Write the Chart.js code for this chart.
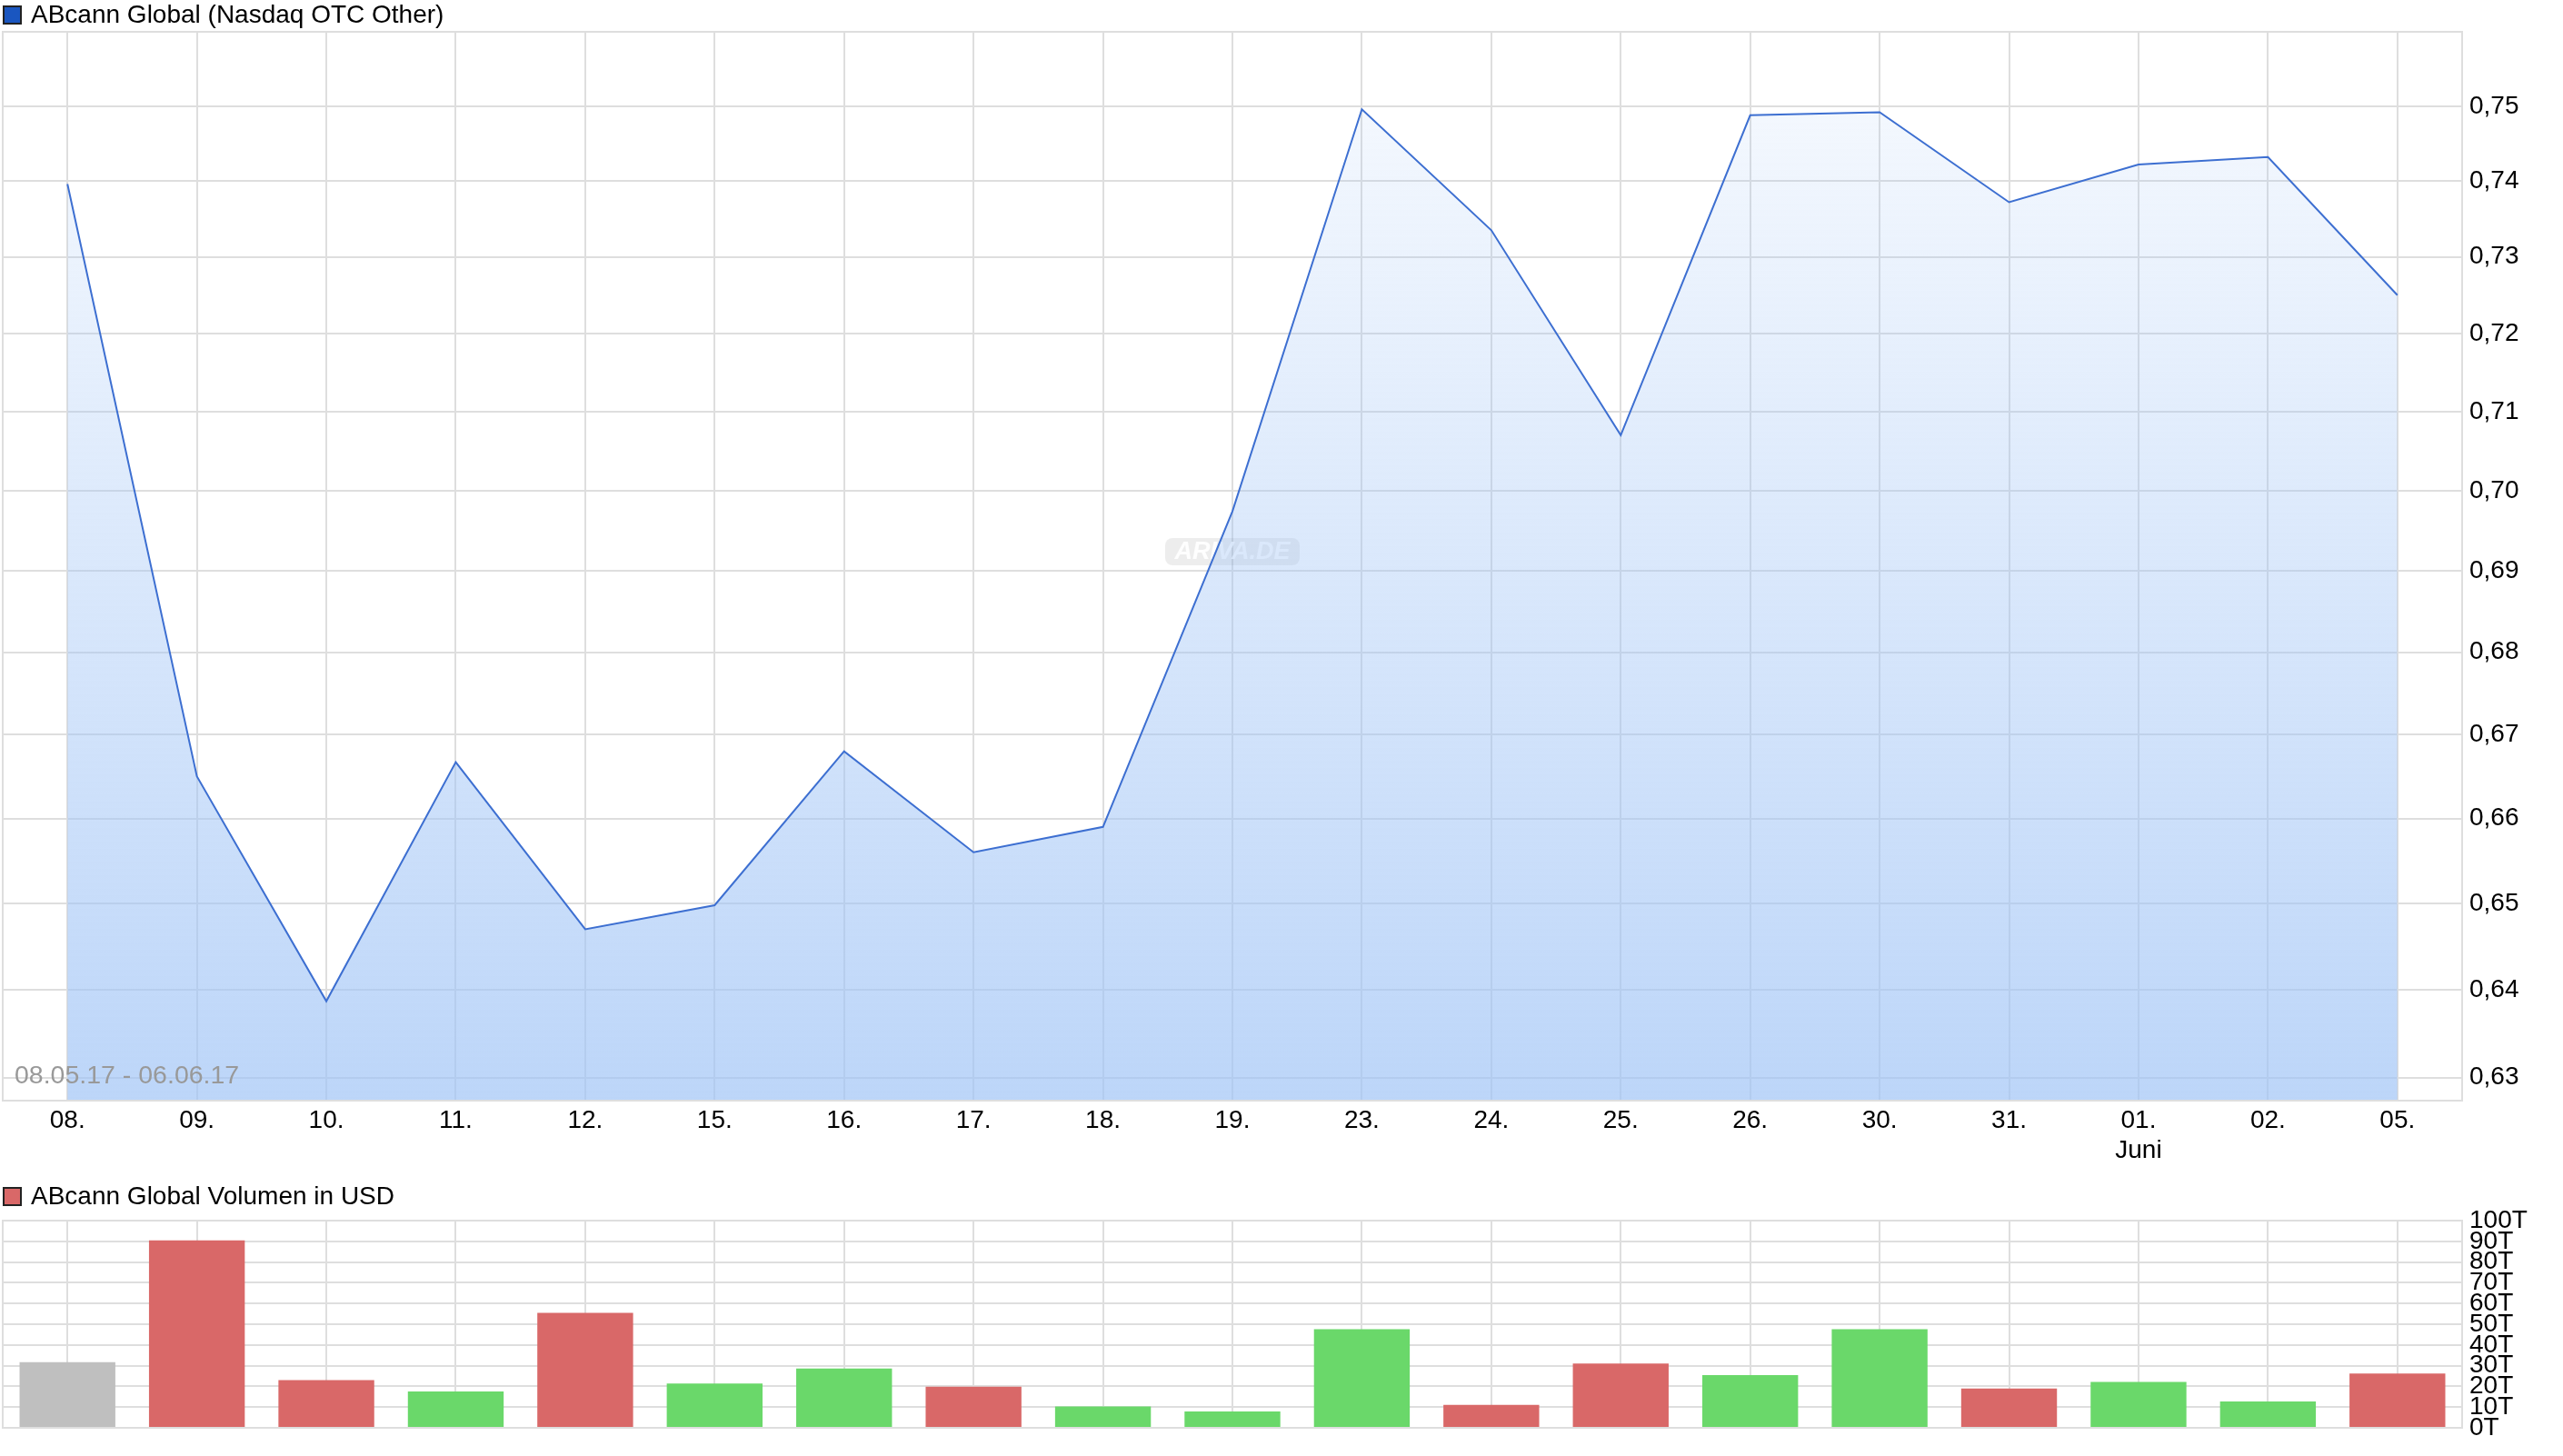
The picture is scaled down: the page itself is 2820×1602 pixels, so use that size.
<!DOCTYPE html>
<html>
<head>
<meta charset="utf-8">
<script src="https://cdn.jsdelivr.net/npm/chart.js@4.4.1/dist/chart.umd.min.js"></script>
<style>
    html, body { margin: 0; padding: 0; background: #fff; }
    #wrap { position: relative; width: 2820px; height: 1602px; overflow: hidden; }
    .box { position: absolute; left: 0; width: 2820px; }
    #top { top: 0; height: 1290px; }
    #bot { top: 1290px; height: 312px; }
</style>
</head>
<body>
<div id="wrap">
    <div class="box" id="top"><canvas id="priceChart"></canvas></div>
    <div class="box" id="bot"><canvas id="volChart"></canvas></div>
</div>
<script>
// trading days 08.05.17 - 05.06.17
const days = ['08.', '09.', '10.', '11.', '12.', '15.', '16.', '17.', '18.', '19.',
    '23.', '24.', '25.', '26.', '30.', '31.', ['01.', 'Juni'], '02.', '05.'];
const closePrices = [0.7396, 0.6650, 0.6387, 0.6667, 0.6470, 0.6498, 0.6680, 0.6560, 0.6590, 0.6974,
    0.7496, 0.7335, 0.7070, 0.7488, 0.7492, 0.7372, 0.7422, 0.7432, 0.7250];
const priceTicks = [0.63, 0.64, 0.65, 0.66, 0.67, 0.68, 0.69, 0.70, 0.71, 0.72, 0.73, 0.74, 0.75];
// volume in USD
const volumes = [31700, 90500, 23000, 17500, 55500, 21400, 28600, 19800, 10300, 7900,
    47600, 11100, 31000, 25400, 47600, 19000, 22200, 12700, 26200];
const volumeMoves = ['flat', 'down', 'down', 'up', 'down', 'up', 'up', 'down', 'up', 'up',
    'up', 'down', 'down', 'up', 'up', 'down', 'up', 'up', 'down'];
const volumeTicks = [0, 10000, 20000, 30000, 40000, 50000, 60000, 70000, 80000, 90000, 100000];

const FONT = 'Liberation Sans, Arial, sans-serif';
const GRID = '#dedede';
const moveColors = { flat: '#bfbfbf', down: '#d96868', up: '#6ad86a' };

Chart.defaults.font.family = FONT;
Chart.defaults.font.size = 28;
Chart.defaults.color = '#000';

let framePlugin = {
    id: 'frame',
    afterDatasetsDraw: function (chart) {
        let a = chart.chartArea, ctx = chart.ctx;
        ctx.save();
        ctx.strokeStyle = GRID;
        ctx.lineWidth = 2;
        ctx.strokeRect(a.left, a.top, a.right - a.left, a.bottom - a.top);
        ctx.restore();
    }
};

let headerPlugin = {
    id: 'header',
    afterDraw: function (chart, args, opts) {
        let ctx = chart.ctx;
        ctx.save();
        ctx.fillStyle = opts.boxColor;
        ctx.fillRect(4, opts.y - 9, 19, 19);
        ctx.strokeStyle = '#222';
        ctx.lineWidth = 2;
        ctx.strokeRect(4, opts.y - 9, 19, 19);
        ctx.fillStyle = '#000';
        ctx.font = '28px ' + FONT;
        ctx.textBaseline = 'middle';
        ctx.fillText(opts.text, 34, opts.y + 1);
        ctx.restore();
    }
};

let stampPlugin = {
    id: 'stamp',
    beforeDatasetsDraw: function (chart, args, opts) {
        let ctx = chart.ctx;
        ctx.save();
        // watermark
        let cx = 1356, cy = 607;
        ctx.fillStyle = 'rgba(0,0,0,0.07)';
        ctx.beginPath();
        ctx.roundRect(cx - 74, cy - 15, 148, 30, 8);
        ctx.fill();
        ctx.fillStyle = 'rgba(255,255,255,0.9)';
        ctx.font = 'italic bold 27px ' + FONT;
        ctx.textAlign = 'center';
        ctx.textBaseline = 'middle';
        ctx.fillText(opts.mark, cx, cy + 1);
        ctx.restore();
    },
    afterDraw: function (chart, args, opts) {
        let ctx = chart.ctx, a = chart.chartArea;
        ctx.save();
        ctx.fillStyle = '#999';
        ctx.font = '28.5px ' + FONT;
        ctx.textBaseline = 'middle';
        ctx.fillText(opts.range, 16, a.bottom - 27);
        ctx.restore();
    }
};

new Chart(document.getElementById('priceChart'), {
    type: 'line',
    data: {
        labels: days,
        datasets: [{
            data: closePrices,
            borderColor: '#3d6fd1',
            borderWidth: 2,
            pointRadius: 0,
            tension: 0,
            fill: 'start',
            backgroundColor: function (context) {
                let a = context.chart.chartArea;
                if (!a) return 'rgba(160,196,246,0.7)';
                let g = context.chart.ctx.createLinearGradient(0, a.top, 0, a.bottom);
                g.addColorStop(0, 'rgba(160,196,246,0.08)');
                g.addColorStop(1, 'rgba(160,196,246,0.7)');
                return g;
            }
        }]
    },
    options: {
        responsive: true,
        maintainAspectRatio: false,
        animation: false,
        layout: { padding: { top: 35, left: 3, right: 0, bottom: 0 } },
        plugins: {
            legend: { display: false },
            tooltip: { enabled: false },
            header: { text: 'ABcann Global (Nasdaq OTC Other)', boxColor: '#1a56c0', y: 16 },
            stamp: { mark: 'ARIVA.DE', range: '08.05.17 - 06.06.17' }
        },
        scales: {
            x: {
                offset: true,
                grid: { color: GRID, lineWidth: 2, offset: false, drawTicks: false },
                border: { display: false },
                ticks: { padding: 5, maxRotation: 0, autoSkip: false },
                afterFit: function (scale) { scale.height = 79; }
            },
            y: {
                type: 'logarithmic',
                position: 'right',
                min: 0.6274,
                max: 0.7601,
                grid: { color: GRID, lineWidth: 2, drawTicks: false },
                border: { display: false },
                afterBuildTicks: function (scale) {
                    scale.ticks = priceTicks.map(v => ({ value: v }));
                },
                ticks: {
                    padding: 8,
                    callback: v => v.toFixed(2).replace('.', ',')
                },
                afterFit: function (scale) { scale.width = 111; }
            }
        }
    },
    plugins: [framePlugin, headerPlugin, stampPlugin]
});

new Chart(document.getElementById('volChart'), {
    type: 'bar',
    data: {
        labels: days,
        datasets: [{
            data: volumes,
            backgroundColor: volumeMoves.map(m => moveColors[m]),
            borderWidth: 0,
            barPercentage: 0.74,
            categoryPercentage: 1
        }]
    },
    options: {
        responsive: true,
        maintainAspectRatio: false,
        animation: false,
        layout: { padding: { top: 53, left: 3, right: 0, bottom: 0 } },
        plugins: {
            legend: { display: false },
            tooltip: { enabled: false },
            header: { text: 'ABcann Global Volumen in USD', boxColor: '#d96868', y: 26 }
        },
        scales: {
            x: {
                grid: { color: GRID, lineWidth: 2, offset: false, drawTicks: false },
                border: { display: false },
                ticks: { display: false },
                afterFit: function (scale) { scale.height = 31; }
            },
            y: {
                position: 'right',
                min: 0,
                max: 100000,
                grid: { color: GRID, lineWidth: 2, drawTicks: false },
                border: { display: false },
                afterBuildTicks: function (scale) {
                    scale.ticks = volumeTicks.map(v => ({ value: v }));
                },
                ticks: {
                    padding: 8,
                    autoSkip: false,
                    callback: v => (v / 1000) + 'T'
                },
                afterFit: function (scale) { scale.width = 111; }
            }
        }
    },
    plugins: [framePlugin, headerPlugin]
});
</script>
</body>
</html>
